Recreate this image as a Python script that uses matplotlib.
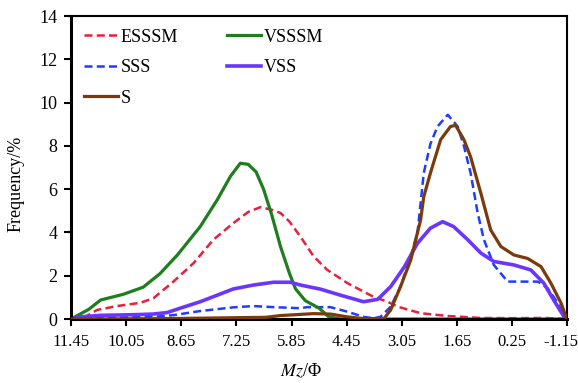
import numpy as np
import matplotlib
matplotlib.use("Agg")
import matplotlib.pyplot as plt
import matplotlib.transforms as mtransforms

plt.rcParams["font.family"] = ["Liberation Serif", "DejaVu Serif"]
plt.rcParams["mathtext.fontset"] = "stix"

# values (x is Mz/Phi, y is frequency %)
esssm_x = [11.45, 11.14, 10.79, 10.28, 9.69, 9.36, 8.85, 8.34, 7.84, 7.33, 6.95, 6.64, 6.35, 6.13,
           5.9, 5.62, 5.29, 4.94, 4.43, 3.77, 3.41, 3.15, 2.57, 1.88, 1.04, 0.2, -0.6, -1.15]
esssm_y = [0.0, 0.05, 0.42, 0.6, 0.75, 0.96, 1.73, 2.58, 3.66, 4.43, 4.95, 5.17, 5.05, 4.9,
           4.5, 3.8, 2.9, 2.27, 1.66, 1.03, 0.8, 0.57, 0.27, 0.14, 0.05, 0.04, 0.05, 0.0]

vsssm_x = [11.45, 11.0, 10.7, 10.13, 9.62, 9.19, 8.75, 8.17, 7.74, 7.4, 7.15, 6.95, 6.75, 6.56,
           6.35, 6.13, 5.9, 5.75, 5.5, 5.15, 4.9, 4.6, 3.0, 1.0, -1.15]
vsssm_y = [0.0, 0.45, 0.88, 1.14, 1.47, 2.1, 2.96, 4.27, 5.5, 6.6, 7.2, 7.15, 6.8, 6.0,
           4.8, 3.35, 2.1, 1.4, 0.85, 0.5, 0.1, 0.0, 0.0, 0.0, 0.0]

sss_x = [11.45, 11.0, 9.36, 8.85, 8.17, 7.33, 6.82, 6.31, 5.62, 5.45, 4.86, 4.43, 4.02, 3.77, 3.59,
         3.33, 3.08, 2.82, 2.65, 2.49, 2.32, 2.14, 1.88, 1.63, 1.47, 1.3, 1.12, 0.96, 0.71,
         0.36, 0.03, -0.41, -0.66, -0.92, -1.07, -1.15]
sss_y = [0.0, 0.05, 0.1, 0.18, 0.37, 0.54, 0.6, 0.55, 0.5, 0.55, 0.55, 0.34, 0.1, 0.04, 0.1,
         0.57, 1.5, 2.9, 3.97, 6.75, 8.1, 8.9, 9.44, 8.9, 8.0, 6.75, 4.9, 3.66, 2.5,
         1.73, 1.73, 1.73, 1.42, 0.73, 0.12, 0.0]

vss_x = [11.45, 11.2, 10.71, 9.87, 9.36, 9.01, 8.68, 8.17, 7.74, 7.33, 6.82, 6.31, 5.88, 5.62,
         5.11, 4.6, 4.02, 3.66, 3.33, 2.98, 2.65, 2.32, 2.01, 1.73, 1.37, 1.04, 0.71, 0.2,
         -0.23, -0.56, -0.81, -1.07, -1.15]
vss_y = [0.0, 0.1, 0.17, 0.2, 0.23, 0.3, 0.5, 0.8, 1.1, 1.39, 1.57, 1.7, 1.7, 1.57,
         1.38, 1.1, 0.8, 0.91, 1.5, 2.42, 3.5, 4.2, 4.5, 4.27, 3.66, 3.05, 2.66, 2.5,
         2.27, 1.66, 0.88, 0.12, 0.0]

s_x = [11.45, 9.0, 6.5, 6.13, 5.29, 4.86, 4.43, 4.02, 3.5, 3.33, 3.08, 2.82, 2.57, 2.49, 2.32,
       2.06, 1.81, 1.68, 1.47, 1.3, 1.04, 0.79, 0.53, 0.2, -0.15, -0.49, -0.74, -1.0, -1.12, -1.15]
s_y = [0.0, 0.02, 0.08, 0.16, 0.25, 0.23, 0.1, 0.02, 0.02, 0.42, 1.5, 2.73, 4.58, 5.65, 6.75,
       8.29, 8.9, 8.95, 8.29, 7.5, 5.82, 4.12, 3.35, 2.96, 2.8, 2.42, 1.66, 0.73, 0.12, 0.0]

xticks = [11.45, 10.05, 8.65, 7.25, 5.85, 4.45, 3.05, 1.65, 0.25, -1.15]
xticklabels = ["11.45", "10.05", "8.65", "7.25", "5.85", "4.45", "3.05", "1.65", "0.25", "-1.15"]

fig = plt.figure(figsize=(5.78, 3.83), dpi=100)
ax = fig.add_axes([0.123, 0.167, 0.858, 0.791])

dash = (0, (3.2, 1.7))
ax.plot(esssm_x, esssm_y, color="#e8203a", lw=1.8, ls=dash, label="ESSSM")
ax.plot(sss_x, sss_y, color="#1f3cff", lw=1.8, ls=dash, label="SSS")
ax.plot(s_x, s_y, color="#7b3a0c", lw=2.3, label="S", zorder=3)
ax.plot(vsssm_x, vsssm_y, color="#1e7d1e", lw=2.3, label="VSSSM")
ax.plot(vss_x, vss_y, color="#6a35ff", lw=2.6, label="VSS")

ax.set_xlim(11.45, -1.15)
ax.set_ylim(0, 14)
ax.set_xticks(xticks)
ax.set_xticklabels(xticklabels)
ax.set_yticks(range(0, 15, 2))
ax.tick_params(direction="out", length=5, width=1.5)
ax.tick_params(axis="x", labelsize=12, pad=6)
ax.tick_params(axis="y", labelsize=13, pad=5)

# last x label sits a bit left in the reference
last = ax.get_xticklabels()[-1]
last.set_transform(last.get_transform() + mtransforms.ScaledTranslation(-6 / 100, 0, fig.dpi_scale_trans))

for side in ["left", "bottom"]:
    ax.spines[side].set_linewidth(2.2)
for side in ["top", "right"]:
    ax.spines[side].set_linewidth(1.5)

ax.set_xlabel("$Mz$/\u03a6", fontsize=13)
ax.set_ylabel("Frequency/%", fontsize=13)
ax.xaxis.set_label_coords(0.464, -0.14)
ax.yaxis.set_label_coords(-0.093, 0.446)

ax.legend(ncol=2, loc="upper left", frameon=False, fontsize=13, handlelength=1.9,
          handletextpad=0.15, columnspacing=2.7, labelspacing=0.75, borderaxespad=0.4,
          borderpad=0.3)

fig.savefig("out.png", dpi=100)
